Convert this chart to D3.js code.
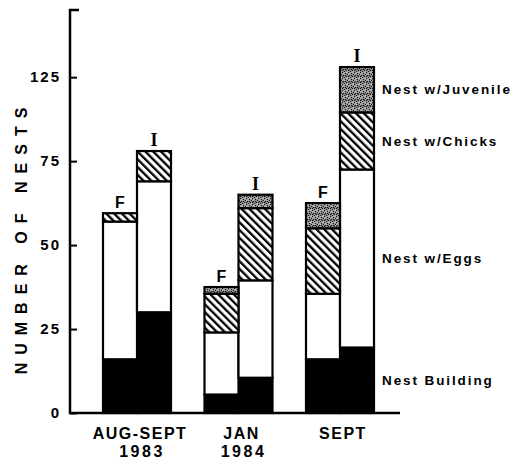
<!DOCTYPE html>
<html>
<head>
<meta charset="utf-8">
<script src="https://cdn.jsdelivr.net/npm/d3@7"></script>
<style>
  body { margin: 0; background: #fff; }
  text { font-family: Arial, "Liberation Sans", sans-serif; font-weight: bold; fill: #000; }
</style>
</head>
<body>
<div id="nest_chart"></div>
<script>
const identity = "#nest_chart"

var width = 516;
var height = 459;

// Data --------------------------------------------------------------
var periodLine1 = ["AUG-SEPT", "JAN", "SEPT"];
var periodLine2 = ["1983", "1984", ""];
var sites = ["F", "I"];
var stages = ["Nest Building", "Nest w/Eggs", "Nest w/Chicks", "Nest w/Juvenile"];

// one value per bar, order: AUG-SEPT F, AUG-SEPT I, JAN F, JAN I, SEPT F, SEPT I
var building  = [16, 30, 5.5, 10.5, 16, 19.5];
var eggs      = [41, 39, 18.5, 29, 19.5, 53];
var chicks    = [2.5, 9, 11.5, 21.5, 19.5, 17];
var juvenile  = [0, 0, 2, 4, 7.5, 13.5];

var tickValues = [0, 25, 50, 75, 100];
var tickLabels = ["0", "25", "50", "75", "125"];   // as printed on the figure

// build table for d3.stack
var table = [];
periodLine1.forEach(function(p, i) {
  sites.forEach(function(s, j) {
    var k = i * 2 + j;
    table.push({
      period: p, site: s,
      "Nest Building": building[k],
      "Nest w/Eggs": eggs[k],
      "Nest w/Chicks": chicks[k],
      "Nest w/Juvenile": juvenile[k]
    });
  });
});

var series = d3.stack().keys(stages)(table);

// Scales ------------------------------------------------------------
var y = d3.scaleLinear().domain([0, 120]).range([413, 10]);

var x0 = d3.scaleBand()
  .domain(periodLine1)
  .range([103, 374])
  .paddingInner(0.33)
  .paddingOuter(0);

var x1 = d3.scaleBand()
  .domain(sites)
  .range([0, x0.bandwidth()]);

var svg = d3.select(identity)
  .append("svg")
  .attr("width", width)
  .attr("height", height);

// Patterns ----------------------------------------------------------
var defs = svg.append("defs");

var hatch = defs.append("pattern")
  .attr("id", "hatch")
  .attr("patternUnits", "userSpaceOnUse")
  .attr("width", 5.5).attr("height", 5.5)
  .attr("patternTransform", "rotate(-45)");
hatch.append("rect").attr("width", 5.5).attr("height", 5.5).attr("fill", "#fff");
hatch.append("rect").attr("x", 0).attr("width", 2.3).attr("height", 5.5).attr("fill", "#000");

var stip = defs.append("pattern")
  .attr("id", "stipple")
  .attr("patternUnits", "userSpaceOnUse")
  .attr("width", 6).attr("height", 6);
stip.append("rect").attr("width", 6).attr("height", 6).attr("fill", "#b4b4b4");
var dots = [[0,0],[3,1],[1,3],[4,4],[5,2],[2,5],[0,4],[3,3]];
stip.selectAll("circle").data(dots).enter()
  .append("circle")
  .attr("cx", function(d) { return d[0] + 0.5; })
  .attr("cy", function(d) { return d[1] + 0.5; })
  .attr("r", 0.8)
  .attr("fill", "#111");

var fills = {
  "Nest Building": "#000",
  "Nest w/Eggs": "#fff",
  "Nest w/Chicks": "url(#hatch)",
  "Nest w/Juvenile": "url(#stipple)"
};

function barX(d) { return x0(d.data.period) + x1(d.data.site); }

// Bars --------------------------------------------------------------
svg.append("g")
  .selectAll("g")
  .data(series)
  .enter()
  .append("g")
    .attr("fill", function(s) { return fills[s.key]; })
  .selectAll("rect")
  .data(function(s) { return s.filter(function(d) { return d[1] > d[0]; }); })
  .enter()
  .append("rect")
    .attr("x", barX)
    .attr("y", function(d) { return y(d[1]); })
    .attr("width", x1.bandwidth())
    .attr("height", function(d) { return y(d[0]) - y(d[1]); })
    .attr("stroke", "#000")
    .attr("stroke-width", 2.2);

// F / I labels above each bar
var tops = series[series.length - 1];
svg.append("g")
  .selectAll("text")
  .data(tops)
  .enter()
  .append("text")
    .attr("x", function(d) { return barX(d) + x1.bandwidth() / 2; })
    .attr("y", function(d) { return y(d[1]) - 5; })
    .attr("text-anchor", "middle")
    .style("font-size", function(d) { return d.data.site == "I" ? "18px" : "16px"; })
    .style("font-family", function(d) { return d.data.site == "I" ? "'Liberation Serif', serif" : null; })
    .text(function(d) { return d.data.site; });

// Stage labels next to the last bar
var last = table.length - 1;
svg.append("g")
  .selectAll("text")
  .data(series)
  .enter()
  .append("text")
    .attr("x", x0(periodLine1[2]) + x0.bandwidth() + 8)
    .attr("y", function(s) { return y((s[last][0] + s[last][1]) / 2); })
    .attr("dy", "0.35em")
    .style("font-size", "13.5px")
    .style("letter-spacing", "1.9px")
    .text(function(s) { return s.key; });

// Axes --------------------------------------------------------------
var yAxis = d3.axisLeft(y)
  .tickValues(tickValues)
  .tickFormat(function(d, i) { return tickLabels[i]; })
  .tickSize(-7)
  .tickSizeOuter(0)
  .tickPadding(9);

var gy = svg.append("g")
  .attr("transform", "translate(70,0)")
  .call(yAxis);
gy.select(".domain").remove();
gy.selectAll(".tick line").attr("stroke", "#000").attr("stroke-width", 2);
gy.selectAll(".tick text")
  .style("font-size", "15px")
  .style("font-weight", "bold")
  .style("letter-spacing", "2px")
  .style("font-family", "Arial, 'Liberation Sans', sans-serif");

// axis line with hook on top
svg.append("path")
  .attr("d", "M" + 79 + "," + y(120) + "H70V" + y(0) + "H400")
  .attr("fill", "none")
  .attr("stroke", "#000")
  .attr("stroke-width", 2.5);

// category labels
var cats = svg.append("g")
  .selectAll("text")
  .data(periodLine1)
  .enter()
  .append("text")
    .attr("x", function(d) { return x0(d) + x0.bandwidth() / 2 + 3; })
    .attr("y", 439)
    .attr("text-anchor", "middle")
    .style("font-size", "16px")
    .style("letter-spacing", "1.5px");
cats.append("tspan").text(function(d) { return d; });
cats.append("tspan")
  .attr("x", function(d) { return x0(d) + x0.bandwidth() / 2 + 5; })
  .attr("dy", 18)
  .style("letter-spacing", "2.5px")
  .text(function(d, i) { return periodLine2[i]; });

// y title
svg.append("text")
  .attr("transform", "translate(27," + 237 + ") rotate(-90)")
  .attr("text-anchor", "middle")
  .style("font-size", "16px")
  .style("letter-spacing", "8px")
  .text("NUMBER OF NESTS");
</script>
</body>
</html>
